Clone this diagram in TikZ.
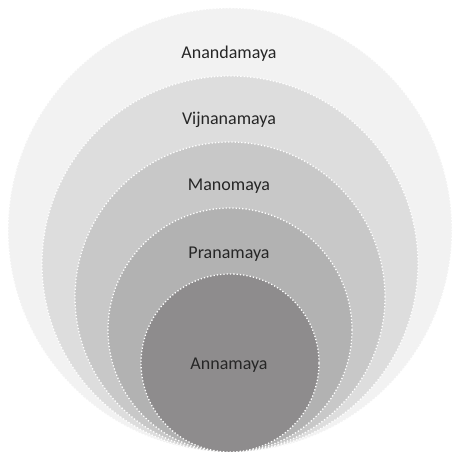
\documentclass[tikz,border=0pt]{standalone}
\usepackage{fontspec}
\setmainfont{Carlito}
\begin{document}
\begin{tikzpicture}[x=1pt,y=1pt,
  ring/.style={circle,draw=white,line width=1.3pt,dotted,inner sep=0pt,minimum size=#1},
  lbl/.style={text=black!85,font=\fontsize{18}{20}\selectfont}]
\useasboundingbox (0,0) rectangle (462,454);
\definecolor{c1}{HTML}{F2F2F2}
\definecolor{c2}{HTML}{DDDDDD}
\definecolor{c3}{HTML}{C8C8C8}
\definecolor{c4}{HTML}{B2B2B2}
\definecolor{c5}{HTML}{8E8C8D}
\node[ring=444pt,fill=c1] (r1) at (230,224) {};
\node[ring=376pt,fill=c2] (r2) at (230,190) {};
\node[ring=310pt,fill=c3] (r3) at (230,157) {};
\node[ring=244pt,fill=c4] (r4) at (230,124) {};
\node[ring=178pt,fill=c5] (r5) at (230,91) {};
\node[lbl] (t1) at (229,400) {Anandamaya};
\node[lbl] (t2) at (229,334) {Vijnanamaya};
\node[lbl] (t3) at (229,268) {Manomaya};
\node[lbl] (t4) at (229,200) {Pranamaya};
\node[lbl] (t5) at (229,89) {Annamaya};
\end{tikzpicture}
\end{document}
